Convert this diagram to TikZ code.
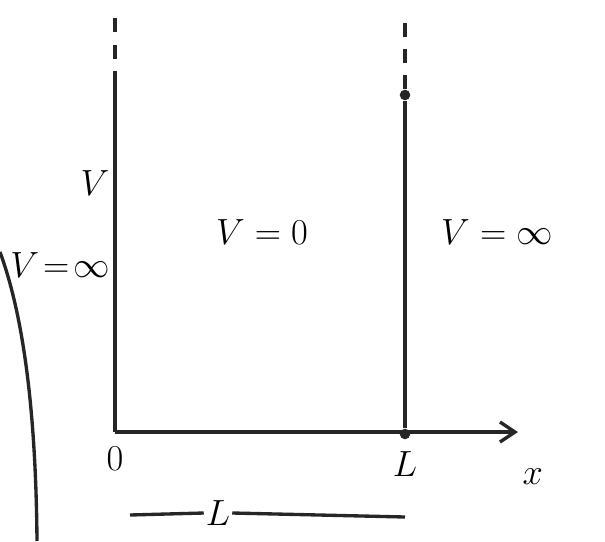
\documentclass[tikz,border=0pt]{standalone}
\usepackage{tikz}
\usetikzlibrary{arrows.meta, positioning}
\usepackage{xcolor}

\begin{document}
\begin{tikzpicture}[
      x=0.02cm, y=-0.02cm,
      wall/.style={line width=1.9pt, draw=black!85},
      ghost/.style={line width=1.9pt, draw=black!85, dash pattern=on 8pt off 7pt},
      lbl/.style={font=\huge, inner sep=1pt},
      tick/.style={circle, fill=black!85, inner sep=0pt, minimum size=6pt}
    ]
    \useasboundingbox (0,0) rectangle (605,541);
    \coordinate (o) at (115,432);
    \coordinate (ltop) at (115,85);
    \coordinate (lup) at (115,15);
    \node[tick] (l) at (405,434) {};
    \node[tick] (rtop) at (405,95) {};
    \coordinate (rup) at (405,15);
    \coordinate (xend) at (518,432);

    \draw[wall] (o) -- (ltop);
    \draw[ghost] (ltop) -- (lup);
    \draw[wall] (l) -- (rtop);
    \draw[ghost] (rtop) -- (rup);
    \draw[wall, -{Straight Barb[length=3mm, width=4mm]}] (o) -- (xend);

    \node[lbl] (vlab) at (95,183) {$V$};
    \node[lbl] (vleft) at (60,265) {$V\!=\!\infty$};
    \node[lbl] (vin) at (262,232) {$V=0$};
    \node[lbl] (vright) at (497,232) {$V=\infty$};
    \node[lbl, below=0.25cm of o] (zero) {$0$};
    \node[lbl, below=0.2cm of l] (llab) {$L$};
    \node[lbl, below right=0.7cm and 0.05cm of xend] (xlab) {$x$};

    % width of the well
    \node[lbl] (width) at (218,513) {$L$};
    \coordinate (wa) at (130,515);
    \coordinate (wb) at (405,517);
    \draw[wall] (wa) -- (width.west);
    \draw[wall] (width.east) -- (wb);

    \draw[wall] (0,252) .. controls (25,320) and (36,420) .. (37,541);
  \end{tikzpicture}
\end{document}
